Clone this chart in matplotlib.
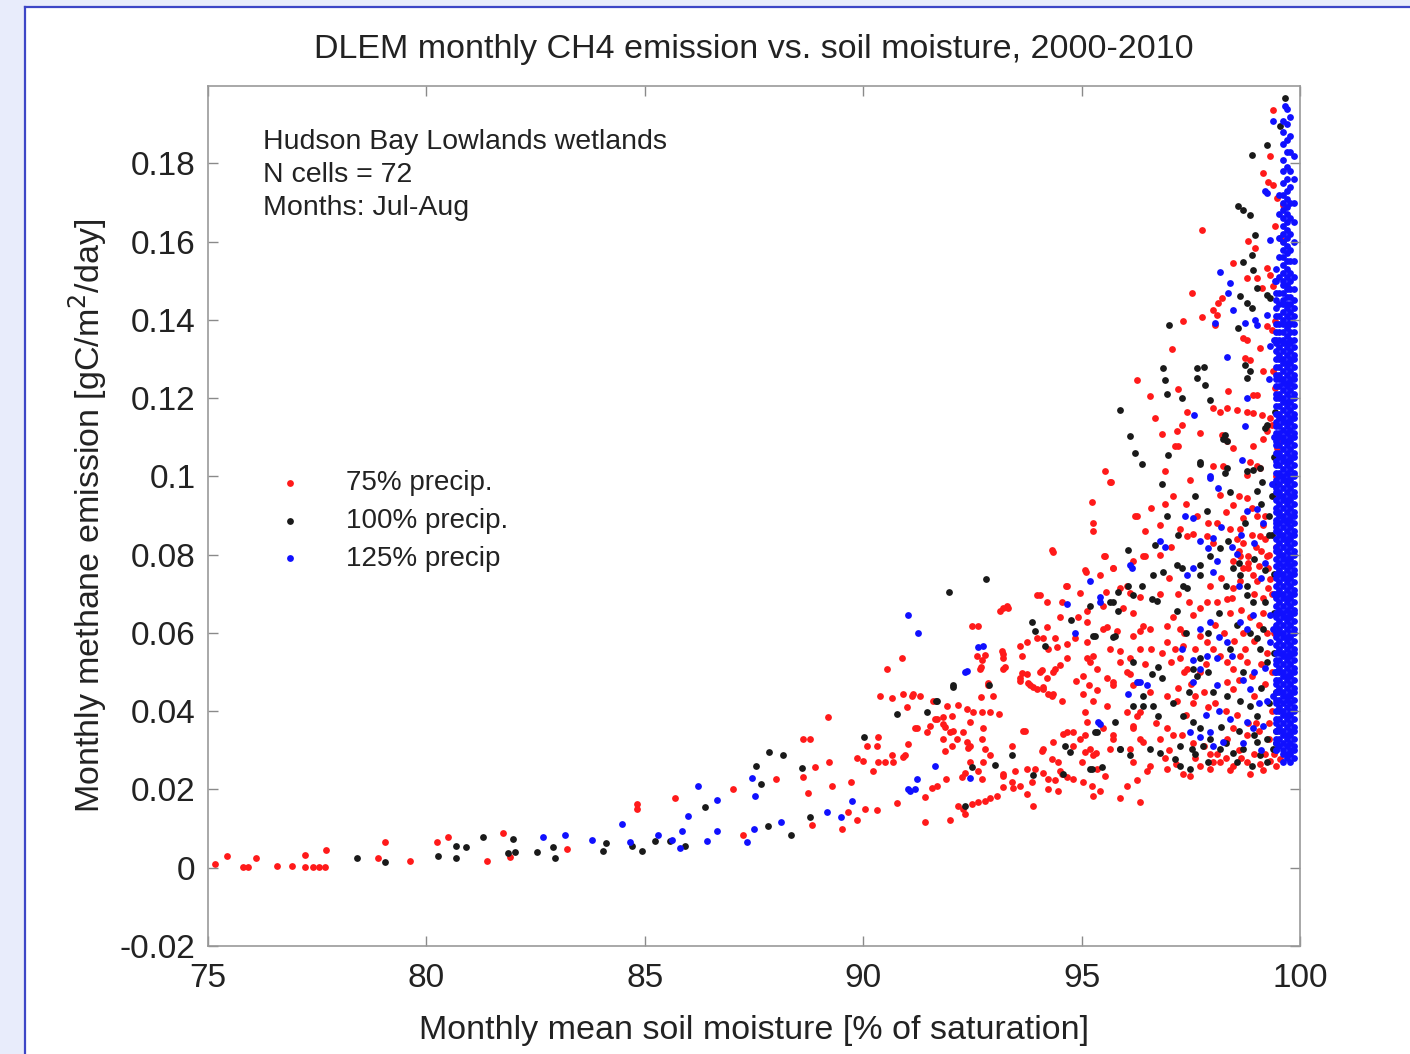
import matplotlib.pyplot as plt
import matplotlib.lines as mlines
import matplotlib.patches as mpatches
import numpy as np

plt.rcParams['font.family'] = ['Liberation Sans', 'DejaVu Sans']

# --- data: (soil moisture %, CH4 gC/m2/day) ---
precip75 = np.array([
    (75.16,0.0010),(75.43,0.0030),(75.80,0.0003),(75.92,0.0003),(76.10,0.0026),(76.58,0.0005),(76.92,0.0005),
    (77.22,0.0033),(77.22,0.0003),(77.40,0.0003),(77.55,0.0002),(77.68,0.0003),(77.70,0.0046),(78.90,0.0026),
    (79.05,0.0066),(79.62,0.0018),(80.24,0.0066),(80.50,0.0079),(81.39,0.0018),(81.75,0.0090),(81.91,0.0028),
    (83.22,0.0049),(84.82,0.0164),(84.82,0.0151),(85.69,0.0177),
    (87.02,0.0202),(87.25,0.0084),(88.00,0.0228),(88.62,0.0330),(88.78,0.0330),(88.62,0.0233),(88.74,0.0192),
    (88.90,0.0258),(89.22,0.0271),(89.29,0.0210),(88.83,0.0110),(89.51,0.0100),(89.65,0.0143),(89.86,0.0123),
    (89.72,0.0220),(89.86,0.0281),(90.00,0.0274),(90.04,0.0151),(90.32,0.0148),(90.09,0.0312),(90.32,0.0312),
    (90.34,0.0333),(90.22,0.0248),(90.34,0.0269),(90.50,0.0269),(90.66,0.0289),(90.68,0.0271),(90.91,0.0284),
    (90.77,0.0166),(90.38,0.0440),(90.66,0.0435),(90.54,0.0509),(90.89,0.0535),(91.00,0.0412),(91.12,0.0440),
    (91.19,0.0356),(91.03,0.0315),(89.19,0.0386),
    (94.35,0.0808),(95.10,0.0757),(92.49,0.0619),(92.63,0.0619),(93.20,0.0663),(93.31,0.0665),(94.05,0.0696),
    (94.21,0.0678),(94.55,0.0680),(94.67,0.0719),(94.50,0.0642),(94.92,0.0642),(95.12,0.0629),(94.21,0.0616),
    (93.59,0.0568),(93.75,0.0578),(93.98,0.0586),(94.12,0.0586),(94.39,0.0586),(92.79,0.0545),(92.61,0.0540),
    (93.20,0.0547),(93.20,0.0535),(93.64,0.0542),(94.23,0.0560),(94.44,0.0565),(94.67,0.0573),(94.85,0.0586),
    (95.12,0.0535),(95.26,0.0542),(92.70,0.0512),(93.25,0.0512),(93.64,0.0499),(93.75,0.0494),(94.09,0.0506),
    (94.39,0.0509),(93.59,0.0478),(93.82,0.0466),(93.98,0.0458),(94.12,0.0463),(94.23,0.0443),(94.35,0.0443),
    (94.55,0.0425),(94.87,0.0478),(95.03,0.0491),(95.17,0.0468),(95.03,0.0445),(95.26,0.0427),(92.86,0.0468),
    (92.70,0.0437),(92.97,0.0440),(90.91,0.0443),(91.14,0.0445),(91.30,0.0440),(91.60,0.0425),(91.92,0.0414),
    (92.17,0.0417),(92.38,0.0407),(92.51,0.0399),(92.72,0.0399),(92.90,0.0397),(93.11,0.0394),(92.45,0.0373),
    (92.74,0.0358),(91.64,0.0379),(91.83,0.0386),(92.03,0.0389),(91.46,0.0348),(91.53,0.0363),(91.87,0.0361),
    (92.06,0.0350),(92.29,0.0348),(91.83,0.0330),(92.03,0.0312),(91.87,0.0299),(92.40,0.0307),(93.66,0.0350),
    (93.41,0.0310),(94.09,0.0299),(94.35,0.0322),(94.57,0.0343),(94.80,0.0348),(95.08,0.0338),(95.19,0.0304),
    (95.33,0.0292),(94.32,0.0279),(94.46,0.0271),(95.01,0.0271),(94.23,0.0228),(94.39,0.0223),(94.55,0.0240),
    (94.67,0.0233),(94.80,0.0228),(94.23,0.0202),(94.46,0.0197),(95.03,0.0220),(95.26,0.0184),(93.93,0.0253),
    (94.12,0.0243),(93.75,0.0189),(93.89,0.0159),(93.41,0.0220),(93.59,0.0210),(93.43,0.0205),(93.20,0.0207),
    (93.06,0.0184),(92.90,0.0179),(92.79,0.0171),(92.63,0.0169),(92.49,0.0164),(92.29,0.0151),(92.17,0.0159),
    (92.33,0.0138),(91.99,0.0123),(91.41,0.0118),(91.41,0.0182),(91.69,0.0210),(91.57,0.0205),(91.90,0.0228),
    (92.26,0.0233),(92.33,0.0243),(92.72,0.0228),(92.63,0.0248),(92.45,0.0271),(92.74,0.0271),(93.20,0.0240),
    (95.67,0.0985),(95.24,0.0936),(95.26,0.0880),(95.26,0.0860),(96.22,0.0898),(94.32,0.0811),(95.51,0.0798),
    (95.08,0.0760),(95.42,0.0747),(95.72,0.0767),(96.45,0.0798),(94.64,0.0721),(93.98,0.0696),(94.96,0.0703),
    (95.12,0.0657),(95.56,0.0706),(95.49,0.0670),(96.04,0.0721),(96.34,0.0693),(95.12,0.0576),(95.58,0.0616),
    (95.81,0.0606),(96.18,0.0593),(96.34,0.0606),(95.88,0.0553),(96.11,0.0535),(96.34,0.0558),(95.19,0.0527),
    (95.35,0.0509),(95.58,0.0484),(95.72,0.0466),(96.11,0.0496),(96.29,0.0476),(95.35,0.0455),(95.58,0.0414),
    (95.08,0.0399),(95.12,0.0373),(96.34,0.0399),(96.18,0.0363),(95.72,0.0330),(95.65,0.0304),(96.34,0.0330),
    (95.08,0.0297),(95.26,0.0287),(94.80,0.0312),(94.96,0.0330),(94.67,0.0348),(94.12,0.0304),(94.50,0.0246),
    (95.35,0.0253),(95.54,0.0235),(95.24,0.0210),(95.42,0.0197),(96.04,0.0210),(96.27,0.0223),(96.50,0.0246),
    (95.88,0.0177),(96.34,0.0169),(93.70,0.0350),(93.75,0.0253),(93.86,0.0220),(93.48,0.0246),(93.20,0.0235),
    (92.72,0.0330),(92.79,0.0304),(92.90,0.0287),(92.38,0.0322),(92.45,0.0310),(91.99,0.0348),(92.15,0.0330),
    (91.69,0.0381),(91.83,0.0368),(91.23,0.0356),(90.96,0.0287),(93.20,0.0509),(93.18,0.0553),(93.59,0.0484),
    (93.77,0.0471),(94.05,0.0501),(94.21,0.0484),(94.35,0.0501),(93.89,0.0463),(94.12,0.0458),(94.32,0.0440),
    (94.50,0.0517),(94.67,0.0535),(93.13,0.0657),(93.29,0.0668),(92.67,0.0509),(92.86,0.0471),(92.72,0.0530),
    (97.76,0.1629),(97.53,0.1468),(97.32,0.1397),(97.76,0.1407),(97.07,0.1325),(96.27,0.1246),(96.57,0.1205),
    (96.68,0.1149),(96.84,0.1108),(95.54,0.1013),(97.21,0.1223),(97.18,0.1115),(97.21,0.1079),(97.30,0.1131),
    (97.41,0.1166),(97.71,0.1110),(98.01,0.1174),(98.17,0.1166),(98.33,0.1174),(98.35,0.1218),(98.56,0.1169),
    (98.01,0.1425),(98.12,0.1443),(98.21,0.1456),(98.10,0.1412),(98.05,0.1386),(98.47,0.1545),(98.81,0.1601),
    (98.97,0.1583),(98.79,0.1507),(99.02,0.1507),(99.24,0.1532),(99.31,0.1514),(99.13,0.1481),(99.38,0.1486),
    (98.70,0.1353),(98.79,0.1348),(99.24,0.1384),(99.36,0.1374),(99.43,0.1397),(99.08,0.1328),(98.74,0.1302),
    (98.85,0.1297),(99.15,0.1269),(99.38,0.1269),(99.43,0.1225),(98.92,0.1207),(99.02,0.1207),(98.79,0.1166),
    (98.92,0.1161),(99.13,0.1156),(99.31,0.1149),(99.24,0.1128),(99.36,0.1131),(98.21,0.1105),(98.33,0.1090),
    (98.47,0.1072),(98.01,0.1028),(98.24,0.1028),(98.92,0.1079),(99.15,0.1097),(99.24,0.1115),(99.47,0.1090),
    (99.47,0.1072),(98.85,0.1038),(99.08,0.1021),(99.54,0.1609),(99.61,0.1601),(99.27,0.1752),(99.38,0.1745),
    (99.47,0.1711),(99.61,0.1693),(99.43,0.1640),(99.38,0.1936),(99.31,0.1819),(99.15,0.1775),
    (95.65,0.0987),(96.27,0.0898),(96.91,0.1015),(97.48,0.0990),(97.14,0.1077),(96.79,0.0875),(97.25,0.0867),
    (97.41,0.0849),(97.55,0.0854),(97.87,0.0847),(98.01,0.0829),(96.41,0.0798),(96.18,0.0783),(95.54,0.0798),
    (95.72,0.0765),(95.88,0.0714),(96.11,0.0701),(95.95,0.0663),(96.18,0.0650),(96.41,0.0619),(96.57,0.0611),
    (96.95,0.0619),(97.25,0.0611),(97.55,0.0645),(97.71,0.0663),(97.87,0.0680),(98.10,0.0680),(98.33,0.0688),
    (98.47,0.0714),(98.63,0.0732),(98.47,0.0783),(98.63,0.0798),(98.70,0.0765),(98.81,0.0765),(98.92,0.0747),
    (99.02,0.0732),(98.81,0.0798),(99.24,0.0798),(99.27,0.0765),(99.31,0.0739),(99.27,0.0714),(99.08,0.0849),
    (99.15,0.0875),(99.02,0.0900),(98.40,0.0867),(98.63,0.0867),(98.70,0.0893),(98.47,0.0926),(98.79,0.0944),
    (98.17,0.0952),(98.79,0.1003),(99.02,0.1028),(95.49,0.0611),(95.65,0.0560),(95.88,0.0527),(96.04,0.0501),
    (95.72,0.0476),(96.18,0.0466),(96.95,0.0578),(97.14,0.0560),(97.32,0.0568),(97.05,0.0527),(97.25,0.0535),
    (97.41,0.0509),(97.71,0.0593),(97.87,0.0578),(98.01,0.0560),(98.17,0.0542),(98.33,0.0527),(98.47,0.0509),
    (98.63,0.0542),(98.79,0.0527),(98.90,0.0491),(98.33,0.0476),(98.47,0.0458),(96.57,0.0450),(96.95,0.0440),
    (97.18,0.0425),(96.04,0.0399),(96.27,0.0389),(95.49,0.0356),(95.72,0.0338),(96.18,0.0356),(96.41,0.0322),
    (96.11,0.0304),(96.95,0.0356),(97.09,0.0338),(98.47,0.0356),(98.79,0.0338),(98.33,0.0330),(96.18,0.0271),
    (96.57,0.0261),(96.95,0.0253),(97.71,0.0261),(97.94,0.0253),(98.17,0.0271),(98.47,0.0261),(98.79,0.0271),
    (99.08,0.0266),(99.31,0.0274),(99.54,0.0279),(97.32,0.0240),(97.48,0.0235),(98.85,0.0240),
    (98.55,0.0840),(98.70,0.0830),(98.90,0.0850),(99.00,0.0820),(99.10,0.0810),(98.60,0.0810),(98.80,0.0780),
    (99.05,0.0770),(99.20,0.0840),(98.95,0.0700),(99.15,0.0690),(98.40,0.0650),(98.70,0.0600),(98.95,0.0580),
    (99.10,0.0520),(98.60,0.0480),(98.95,0.0440),(99.20,0.0470),(99.35,0.0400),(99.00,0.0370),(99.30,0.0330),
    (97.90,0.0410),(97.60,0.0440),(97.40,0.0390),(97.80,0.0310),(98.10,0.0290),(98.60,0.0300),(99.20,0.0290),
    (97.00,0.0300),(96.80,0.0330),(96.70,0.0370),(97.50,0.0470),(97.70,0.0500),
    (97.10,0.0640),(97.35,0.0600),(97.60,0.0560),(97.85,0.0520),(98.05,0.0620),(98.25,0.0600),(98.50,0.0580),
    (98.75,0.0560),(99.05,0.0620),(99.25,0.0600),(97.20,0.0700),(97.45,0.0680),(97.95,0.0720),(98.20,0.0740),
    (98.45,0.0690),(98.65,0.0660),(98.85,0.0640),(99.15,0.0650),(99.35,0.0700),(97.80,0.0450),(98.05,0.0420),
    (98.30,0.0400),(98.55,0.0390),(98.80,0.0370),(99.05,0.0350),(99.30,0.0370),(97.30,0.0340),(97.55,0.0320),
    (97.95,0.0290),(98.30,0.0280),(98.65,0.0280),(98.95,0.0290),(99.40,0.0290),(96.90,0.0280),(97.15,0.0265),
    (97.60,0.0280),(98.00,0.0270),(98.40,0.0250),(99.15,0.0250),(99.45,0.0260),(99.25,0.0550),(99.35,0.0500),
    (99.40,0.0600),(99.20,0.0900),(99.30,0.0800),(99.45,0.0820),(99.40,0.0950),(99.45,0.1000),(98.90,0.0920),
    (98.60,0.0950),(98.30,0.0910),(98.10,0.0880),(97.90,0.0880),(97.65,0.0900),(97.40,0.0930),(97.10,0.0950),
    (96.90,0.0930),(96.60,0.0920),(96.45,0.0860),(96.80,0.0800),(97.05,0.0820),(97.00,0.0740),(96.80,0.0700),
    (97.35,0.0500),(97.55,0.0420),(97.20,0.0460),(96.85,0.0550),(96.60,0.0560),(96.45,0.0520),
])

precip100 = np.array([
    (78.41,0.0026),(79.05,0.0015),(80.27,0.0031),(80.68,0.0056),(80.68,0.0026),(80.91,0.0054),(81.30,0.0079),
    (81.98,0.0074),(81.87,0.0038),(82.03,0.0041),(82.53,0.0041),(82.90,0.0054),(82.94,0.0026),(84.11,0.0064),
    (84.04,0.0043),(84.71,0.0056),(84.94,0.0043),(85.23,0.0069),(85.58,0.0069),(85.92,0.0056),(86.38,0.0156),
    (87.55,0.0261),(87.84,0.0297),(87.66,0.0215),(88.16,0.0289),(87.82,0.0107),(88.35,0.0084),(88.60,0.0256),
    (88.78,0.0130),(90.02,0.0335),(90.77,0.0394),(91.96,0.0706),(92.81,0.0737),(91.67,0.0425),(91.46,0.0399),
    (92.06,0.0466),(92.88,0.0468),(93.86,0.0629),(93.93,0.0606),(94.16,0.0568),(94.76,0.0632),(95.31,0.0593),
    (95.31,0.0348),(94.62,0.0312),(94.74,0.0297),(93.41,0.0287),(93.02,0.0263),(92.49,0.0258),(93.89,0.0238),
    (94.57,0.0240),(95.19,0.0253),(92.33,0.0159),(96.06,0.0811),(95.26,0.0593),(95.76,0.0593),(95.19,0.0670),
    (95.65,0.0678),(95.83,0.0657),(96.18,0.0696),(96.06,0.0721),(96.38,0.0721),(92.06,0.0463),(91.69,0.0427),
    (95.35,0.0348),(95.76,0.0373),(95.88,0.0304),(96.11,0.0287),(95.24,0.0253),(95.47,0.0258),(96.18,0.0414),
    (96.41,0.0414),
    (98.58,0.1691),(98.70,0.1681),(98.85,0.1668),(98.97,0.1617),(98.90,0.1565),(98.70,0.1548),(98.92,0.1527),
    (99.02,0.1481),(98.63,0.1461),(98.79,0.1443),(98.90,0.1430),(98.58,0.1379),(99.24,0.1463),(99.31,0.1456),
    (97.00,0.1386),(96.86,0.1276),(96.91,0.1246),(96.95,0.1212),(97.64,0.1276),(97.80,0.1279),(97.64,0.1251),
    (97.82,0.1233),(97.30,0.1200),(95.88,0.1169),(96.11,0.1103),(96.22,0.1059),(96.38,0.1033),(96.98,0.1054),
    (97.71,0.1033),(98.28,0.1105),(98.33,0.1090),(97.94,0.1195),(98.74,0.1284),(98.79,0.1251),(98.85,0.1269),
    (99.24,0.1131),(99.20,0.1123),(98.79,0.1013),(98.92,0.1016),(99.43,0.1166),(99.66,0.1967),(99.54,0.1896),
    (99.24,0.1847),(98.90,0.1821),
    (96.84,0.0982),(97.71,0.1038),(98.24,0.1097),(98.33,0.1021),(98.28,0.1008),(99.08,0.1021),(99.13,0.0987),
    (99.02,0.0962),(97.87,0.0913),(96.95,0.0898),(96.68,0.0824),(97.18,0.0773),(97.30,0.0765),(96.63,0.0747),
    (96.86,0.0757),(97.71,0.0773),(97.94,0.0798),(97.71,0.0747),(98.17,0.0816),(98.35,0.0834),(98.47,0.0765),
    (98.63,0.0747),(98.79,0.0721),(96.61,0.0688),(96.73,0.0683),(97.18,0.0655),(97.41,0.0714),(97.32,0.0721),
    (95.72,0.0680),(95.83,0.0706),(95.72,0.0591),(96.18,0.0527),(96.75,0.0514),(96.61,0.0496),(96.84,0.0484),
    (97.55,0.0509),(97.71,0.0535),(97.64,0.0489),(99.02,0.0586),(99.08,0.0560),(99.24,0.0527),(99.15,0.0611),
    (98.79,0.0696),(98.92,0.0680),(96.41,0.0440),(96.63,0.0414),(96.75,0.0389),(97.32,0.0389),(97.55,0.0373),
    (98.01,0.0450),(98.33,0.0440),(98.63,0.0425),(98.85,0.0414),(99.02,0.0389),(97.71,0.0356),(97.94,0.0330),
    (96.57,0.0304),(96.79,0.0292),(97.14,0.0279),(97.25,0.0312),(97.53,0.0304),(97.78,0.0312),(98.17,0.0304),
    (98.47,0.0292),(98.70,0.0304),(99.02,0.0322),(99.24,0.0330),(99.38,0.0304),(99.08,0.0287),(95.88,0.0304),
    (97.25,0.0261),(97.48,0.0253),
    (99.35,0.0850),(99.30,0.0900),(99.35,0.0950),(99.40,0.0750),(99.40,0.0650),(99.40,0.0550),(99.45,0.0450),
    (99.45,0.0350),(99.40,0.0980),(99.40,0.1050),
    (97.40,0.0600),(97.90,0.0600),(98.15,0.0650),(98.55,0.0620),(98.85,0.0600),(99.20,0.0680),(98.40,0.0560),
    (98.70,0.0500),(99.10,0.0460),(98.20,0.0360),(98.60,0.0350),(98.95,0.0340),(99.30,0.0420),(97.60,0.0290),
    (97.90,0.0270),(98.30,0.0320),(98.55,0.0270),(98.90,0.0260),(99.25,0.0270),(99.45,0.0320),(97.10,0.0420),
    (97.45,0.0450),(97.90,0.0500),(98.30,0.0720),(98.60,0.0780),(98.95,0.0790),(99.20,0.0760),(99.30,0.0850),
    (99.10,0.0930),(98.75,0.0880),(98.40,0.0960),(97.60,0.0950),(97.20,0.0850),
])

precip125 = np.array([
    (82.67,0.0079),(83.17,0.0084),(83.79,0.0072),(84.48,0.0113),(84.66,0.0067),(85.30,0.0084),(85.85,0.0095),
    (85.81,0.0051),(85.99,0.0133),(86.22,0.0210),(91.03,0.0645),(91.25,0.0599),(86.65,0.0174),(85.62,0.0072),
    (86.42,0.0069),(86.65,0.0095),(87.45,0.0230),(87.52,0.0184),(87.50,0.0100),(87.34,0.0067),(88.12,0.0118),
    (89.17,0.0143),(89.49,0.0130),(89.74,0.0171),(91.03,0.0200),(91.19,0.0200),(91.23,0.0228),(92.33,0.0501),
    (92.63,0.0565),(92.74,0.0568),(95.19,0.0732),(94.67,0.0675),(94.85,0.0599),(95.42,0.0691),(91.64,0.0261),
    (92.45,0.0230),(95.37,0.0373),(92.38,0.0504),(96.15,0.0767),(95.42,0.0678),(96.27,0.0476),(96.06,0.0445),
    (95.42,0.0368),(91.07,0.0197),
    (98.17,0.1522),(98.40,0.1494),(98.35,0.1468),(98.47,0.1425),(98.74,0.1392),(98.97,0.1399),(99.02,0.1386),
    (98.05,0.1392),(99.24,0.1412),(98.33,0.1305),(99.31,0.1604),(99.24,0.1724),(99.31,0.1333),(98.79,0.1200),
    (98.74,0.1128),(97.57,0.1156),(98.67,0.1041),(97.94,0.1000),(99.66,0.1947),(99.38,0.1908),(99.61,0.1908),
    (99.20,0.1729),
    (97.94,0.0995),(98.12,0.0970),(97.37,0.0898),(97.55,0.0893),(98.79,0.0911),(99.02,0.0918),(97.71,0.0834),
    (98.01,0.0842),(97.89,0.0816),(98.44,0.0821),(98.56,0.0803),(98.10,0.0783),(98.01,0.0757),(97.55,0.0765),
    (97.41,0.0747),(96.79,0.0834),(96.91,0.0821),(96.11,0.0773),(97.71,0.0611),(97.94,0.0629),(97.87,0.0542),
    (98.10,0.0535),(97.71,0.0509),(97.55,0.0476),(98.10,0.0466),(98.33,0.0578),(98.63,0.0629),(98.79,0.0611),
    (98.92,0.0645),(99.31,0.0645),(99.38,0.0611),(99.31,0.0578),(96.34,0.0476),(96.50,0.0466),(97.48,0.0348),
    (97.71,0.0335),(97.94,0.0348),(98.79,0.0373),(98.92,0.0356),(99.15,0.0363),(99.24,0.0425),(99.38,0.0440),
    (98.85,0.0458),(98.01,0.0312),(98.24,0.0322),
    (99.35,0.0980),(99.40,0.1100),(99.30,0.1250),(99.40,0.1350),(99.42,0.1500),(99.45,0.0880),(99.40,0.0700),
    (99.42,0.0500),(99.45,0.0300),
    (97.30,0.0560),(97.55,0.0530),(98.15,0.0590),(98.45,0.0540),(98.70,0.0480),(98.95,0.0500),(99.20,0.0510),
    (99.05,0.0420),(98.40,0.0380),(98.15,0.0400),(97.85,0.0390),(99.10,0.0300),(98.70,0.0320),(99.20,0.0780),
    (98.95,0.0830),(98.65,0.0850),(99.15,0.0880),(98.60,0.0720),(99.10,0.0740),(98.20,0.0870),
])

# the dense blue column near saturation, read as vertical strands (emission in 1e-3 gC/m2/day)
column_x = [99.44, 99.52, 99.62, 99.70, 99.78, 99.86]
column_milli = [
    [30,32,33,35,37,38,40,42,43,45,47,48,50,52,53,55,57,59,60,62,64,65,67,69,70,72,74,75,77,79,81,82,84,86,87,
     89,91,92,94,96,97,99,101,103,104,106,108,109,111,113,114,116,118,120,121,123,125,126,128,130,132,134,135,
     137,139,141,143,145,147,150,153],
    [31,33,35,36,38,40,41,43,45,46,48,50,51,53,55,56,58,60,61,63,65,66,68,70,71,73,75,76,78,80,81,83,85,86,88,
     90,91,93,95,96,98,100,101,103,105,106,108,110,111,113,115,116,118,120,121,123,125,126,128,130,131,133,
     135,137,139,141,144,147,151,156,161,167,172],
    [27,29,30,32,34,35,37,39,40,42,44,45,47,49,50,52,54,55,57,59,60,62,64,65,67,69,70,72,74,75,77,79,80,82,84,
     85,87,89,90,92,94,95,97,99,100,102,104,105,107,109,110,112,114,115,117,119,120,122,124,125,127,129,130,
     132,134,135,137,139,140,142,144,145,147,149,150,152,154,156,158,160,162,164,166,168,170,172,175,178,181,
     185,188],
    [28,29,31,33,34,36,38,39,41,43,44,46,48,49,51,53,54,56,58,59,61,63,64,66,68,69,71,73,74,76,78,79,81,83,84,
     86,88,89,91,93,94,96,98,99,101,103,104,106,108,109,111,113,114,116,118,119,121,123,124,126,128,129,131,
     133,134,136,138,139,141,143,144,146,148,149,151,153,155,157,159,161,163,165,167,169,171,173,176,179,183,
     186,190,194],
    [27,29,30,32,34,35,37,39,40,42,44,45,47,49,50,52,54,55,57,59,60,62,64,65,67,69,70,72,74,75,77,79,80,82,84,
     85,87,89,90,92,94,95,97,99,100,102,104,105,107,109,110,112,114,115,117,119,120,122,124,125,127,129,130,
     132,134,135,137,139,140,142,144,146,148,150,152,155,158,162,166,170,174,178,183,187,192],
    [28,30,31,33,35,36,38,40,41,43,45,46,48,50,51,53,55,56,58,60,61,63,65,66,68,70,71,73,75,76,78,80,81,83,85,
     86,88,90,91,93,95,96,98,100,101,103,105,106,108,110,111,113,115,116,118,120,121,123,125,126,128,130,131,
     133,135,137,139,141,143,145,148,151,155,160,165,170,176,182],
]

series_labels = ['75% precip.', '100% precip.', '125% precip']
series_colors = ['#ff1a1a', '#1a1a1a', '#1010ff']

x_ticks = [75, 80, 85, 90, 95, 100]
y_ticks = [-0.02, 0, 0.02, 0.04, 0.06, 0.08, 0.1, 0.12, 0.14, 0.16, 0.18]
y_tick_labels = ['-0.02', '0', '0.02', '0.04', '0.06', '0.08', '0.1', '0.12', '0.14', '0.16', '0.18']

W, H = 1410, 1054
fig = plt.figure(figsize=(W / 100, H / 100), dpi=100)
fig.patch.set_facecolor('#e8ecfb')
# white panel with a blue border on its top and left edges
fig.add_artist(mpatches.Rectangle((25 / W, 0), 1 - 25 / W, 1 - 7 / H, transform=fig.transFigure,
                                  facecolor='white', edgecolor='none', zorder=-2))
fig.add_artist(mlines.Line2D([25 / W, 25 / W], [0, 1 - 7 / H], transform=fig.transFigure,
                             color='#3d46c6', lw=1.6))
fig.add_artist(mlines.Line2D([25 / W, 1], [1 - 7 / H, 1 - 7 / H], transform=fig.transFigure,
                             color='#3d46c6', lw=1.6))

ax = fig.add_axes([208 / W, 108 / H, 1092 / W, 860 / H])

dot = 24
handles = []
for pts, c, lab in zip([precip75, precip100, precip125], series_colors, series_labels):
    h = ax.scatter(pts[:, 0], pts[:, 1], s=dot, c=c, linewidths=0, label=lab)
    handles.append(h)
for cx, ys in zip(column_x, column_milli):
    ys = np.array(ys) / 1000.0
    ax.scatter(np.full(len(ys), cx), ys, s=dot, c=series_colors[2], linewidths=0)

ax.set_xlim(75, 100)
ax.set_ylim(-0.02, 0.1998)
ax.set_xticks(x_ticks)
ax.set_yticks(y_ticks)
ax.set_yticklabels(y_tick_labels)

ax.tick_params(direction='in', length=7, width=1, color='#8a8a8a', top=True, right=True,
               labelsize=24, labelcolor='#222222')
ax.tick_params(axis='x', pad=12)
ax.tick_params(axis='y', pad=9)
for sp in ax.spines.values():
    sp.set_color('#999999')
    sp.set_linewidth(1.2)

ax.set_title('DLEM monthly CH4 emission vs. soil moisture, 2000-2010', fontsize=24.5,
             color='#222222', pad=20)
ax.set_xlabel('Monthly mean soil moisture [% of saturation]', fontsize=24.5, color='#222222', labelpad=15)
ax.set_ylabel('Monthly methane emission [gC/m$^2$/day]', fontsize=24.5, color='#222222', labelpad=8)

ax.text(0.05, 0.950, 'Hudson Bay Lowlands wetlands\nN cells = 72\nMonths: Jul-Aug',
        transform=ax.transAxes, fontsize=20.5, color='#222222', va='top', ha='left', linespacing=1.36)

ax.legend(handles=handles, loc='upper left', bbox_to_anchor=(0.0493, 0.553), frameon=False,
          fontsize=20, borderpad=0, borderaxespad=0, handlelength=2, handletextpad=1.02,
          labelspacing=0.42, scatterpoints=1, labelcolor='#222222')

fig.savefig('out.png', dpi=100, facecolor=fig.get_facecolor())
